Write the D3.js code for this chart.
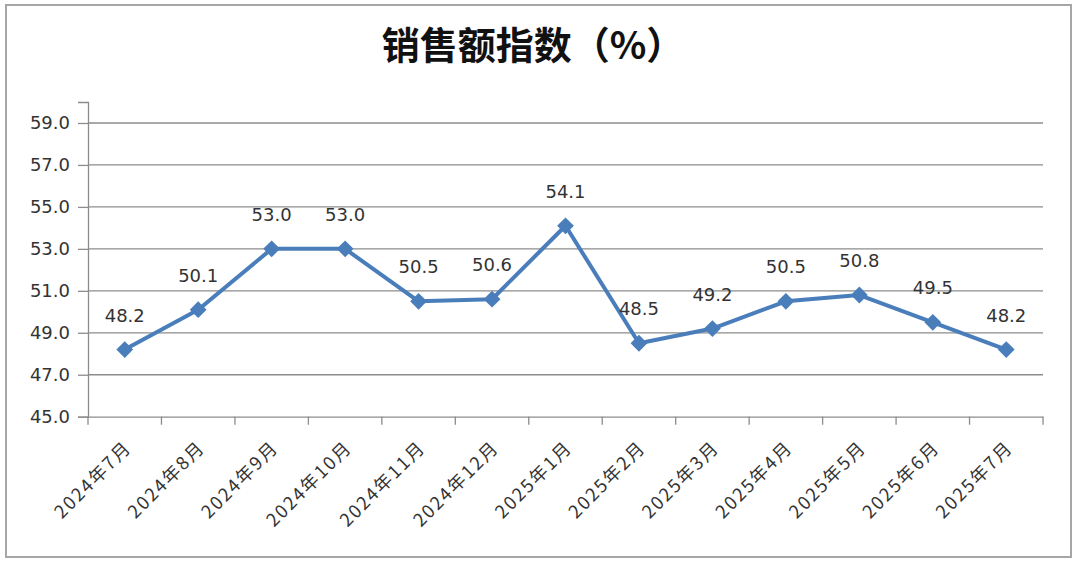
<!DOCTYPE html>
<html><head><meta charset="utf-8">
<script src="https://cdn.jsdelivr.net/npm/d3@7"></script>
<style>
html,body{margin:0;padding:0;background:#fff;}
svg{display:block;}
</style></head>
<body>
<svg id="chart" width="1080" height="566"></svg>
<script>
const title = "销售额指数（%）";
const categories = ["2024年7月","2024年8月","2024年9月","2024年10月","2024年11月","2024年12月","2025年1月","2025年2月","2025年3月","2025年4月","2025年5月","2025年6月","2025年7月"];
const values = [48.2, 50.1, 53.0, 53.0, 50.5, 50.6, 54.1, 48.5, 49.2, 50.5, 50.8, 49.5, 48.2];
const yTicks = [45, 47, 49, 51, 53, 55, 57, 59];

const svg = d3.select("#chart");
const m = {left: 88, right: 1043, top: 102, bottom: 416.7};

svg.append("rect").attr("x", 6).attr("y", 5).attr("width", 1065).attr("height", 552)
  .attr("fill", "#fff").attr("stroke", "#a6a6a6").attr("stroke-width", 2);

svg.append("text").attr("x", 533).attr("y", 59).attr("text-anchor", "middle")
  .attr("font-family", "'Noto Sans CJK SC', sans-serif").attr("font-weight", "bold")
  .attr("font-size", 38).attr("fill", "#111").text(title);

const x = d3.scaleBand().domain(categories).range([m.left, m.right]).paddingInner(0).paddingOuter(0);
const y = d3.scaleLinear().domain([45, 60]).range([m.bottom, m.top]);

const gridColor = "#8c8c8c";
svg.append("g").selectAll("line").data(yTicks.filter(d => d > 45)).join("line")
  .attr("x1", m.left).attr("x2", m.right)
  .attr("y1", d => y(d)).attr("y2", d => y(d))
  .attr("stroke", gridColor).attr("stroke-width", 1.3);

const yAxis = d3.axisLeft(y).tickValues(yTicks).tickFormat(d3.format(".1f")).tickSize(10).tickPadding(8);
const gy = svg.append("g").attr("transform", `translate(${m.left},0)`).call(yAxis);
gy.select(".domain").attr("stroke", gridColor).attr("stroke-width", 1.3);
gy.selectAll(".tick line").attr("stroke", gridColor).attr("stroke-width", 1.3);
gy.selectAll(".tick text").attr("font-family", "'DejaVu Sans', sans-serif")
  .attr("font-size", 18).attr("fill", "#333");

const xAxis = d3.axisBottom(x).tickSize(0).tickFormat(d => d);
const gx = svg.append("g").attr("transform", `translate(0,${m.bottom})`).call(xAxis);
gx.select(".domain").attr("stroke", gridColor).attr("stroke-width", 1.3);
gx.selectAll(".tick text")
  .attr("font-family", "'Noto Sans CJK SC', sans-serif").attr("font-size", 18).attr("fill", "#333")
  .attr("letter-spacing", 2)
  .attr("text-anchor", "end").attr("dy", null).attr("y", 0)
  .attr("transform", "translate(8,32) rotate(-45)");
const bounds = categories.map(c => x(c)).concat([m.right]);
svg.append("g").selectAll("line").data(bounds).join("line")
  .attr("x1", d => d).attr("x2", d => d)
  .attr("y1", m.bottom).attr("y2", m.bottom + 8)
  .attr("stroke", gridColor).attr("stroke-width", 1.3);

const cx = d => x(d) + x.bandwidth() / 2;
const color = "#4a7ebb";
const line = d3.line().x((d, i) => cx(categories[i])).y(d => y(d));
svg.append("path").datum(values).attr("d", line)
  .attr("fill", "none").attr("stroke", color).attr("stroke-width", 4).attr("stroke-linejoin", "round");

svg.append("g").selectAll("path").data(values).join("path")
  .attr("d", d3.symbol().type(d3.symbolDiamond2).size(180))
  .attr("transform", (d, i) => `translate(${cx(categories[i])},${y(d)})`)
  .attr("fill", color);

svg.append("g").selectAll("text").data(values).join("text")
  .attr("x", (d, i) => cx(categories[i])).attr("y", d => y(d) - 28)
  .attr("text-anchor", "middle")
  .attr("font-family", "'DejaVu Sans', sans-serif").attr("font-size", 18).attr("fill", "#333")
  .text(d => d3.format(".1f")(d));
</script>
</body></html>
